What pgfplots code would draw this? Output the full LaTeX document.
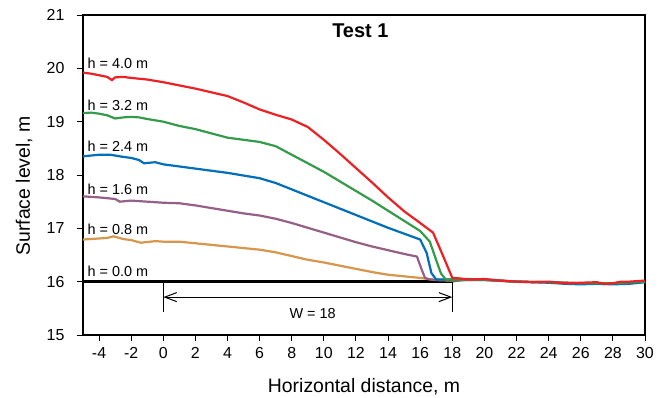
\documentclass[border=0pt]{standalone}
\usepackage{pgfplots}
\pgfplotsset{compat=1.18}
\usepackage{fontspec}
\setmainfont{Liberation Sans}
\usetikzlibrary{arrows.meta}
\definecolor{cred}{RGB}{237,32,36}
\definecolor{cgreen}{RGB}{52,155,75}
\definecolor{cblue}{RGB}{0,110,185}
\definecolor{cpurple}{RGB}{150,95,135}
\definecolor{corange}{RGB}{214,150,75}
\begin{document}
\begin{tikzpicture}
\useasboundingbox (-83bp,-63bp) rectangle (584bp,335bp);
\begin{axis}[
  at={(0,0)}, anchor=south west,
  scale only axis, width=562bp, height=320bp,
  xmin=-5, xmax=30, ymin=15, ymax=21,
  xtick={-4,-2,...,30}, ytick={15,16,...,21},
  tick align=outside, tick pos=left,
  major tick length=6bp,
  axis line style={line width=1.2bp},
  every tick/.style={line width=1bp, black},
  ticklabel style={font=\fontsize{16}{16}\selectfont},
  xticklabel style={yshift=-3bp},
  yticklabel style={xshift=-9bp},
  /pgf/number format/assume math mode=true,
  xlabel={Horizontal distance, m}, ylabel={Surface level, m},
  label style={font=\fontsize{19.5}{19.5}\selectfont},
  xlabel style={at={(axis description cs:0.5,-0.181)}, anchor=base},
  ylabel style={at={(axis description cs:-0.105,0.466)}, anchor=center},
  clip=false,
]
% base line h = 0.0
\addplot[black, line width=3bp] coordinates {(-5,16) (18,16)};
\addplot[black, line width=1.5bp] coordinates {(18,16.0) (19,16.04) (20,16.03) (22,16.0) (24,15.99) (26,15.97) (27.5,15.95) (28,15.97) (29,15.99) (30,16.0)};
% h = 0.8
\addplot[corange, line width=2.2bp] coordinates {
(-5,16.79) (-4.5,16.80) (-4,16.81) (-3.5,16.82) (-3.1,16.85) (-2.5,16.80) (-2,16.78) (-1.4,16.73) (-0.5,16.76) (0,16.75) (1,16.75) (2,16.72) (3,16.69) (4,16.66) (5,16.63) (6,16.60) (7,16.55) (8,16.48) (9,16.41) (10,16.36) (11,16.30) (12,16.24) (13,16.18) (14,16.13) (15,16.10) (16,16.07) (17,16.03) (18,16.02) (19,16.03) (20,16.03) (22,16.0) (24,15.99) (26,15.97) (28,15.97) (30,16.0)};
% h = 1.6
\addplot[cpurple, line width=2.2bp] coordinates {
(-5,17.60) (-4,17.58) (-3,17.55) (-2.7,17.50) (-2,17.52) (-1,17.50) (0,17.48) (1,17.47) (2,17.43) (3,17.38) (4,17.33) (5,17.28) (6,17.24) (7,17.18) (8,17.10) (9,17.01) (10,16.92) (11,16.83) (12,16.74) (13,16.66) (14,16.59) (15,16.52) (15.8,16.47) (16.1,16.22) (16.3,16.07) (16.6,16.04) (18,16.03) (20,16.03) (22,16.0) (24,15.99) (26,15.97) (28,15.97) (30,16.0)};
% h = 2.4
\addplot[cblue, line width=2.2bp] coordinates {
(-5,18.35) (-4,18.38) (-3.3,18.38) (-2.5,18.34) (-2,18.32) (-1.5,18.28) (-1.2,18.22) (-0.5,18.24) (0,18.20) (1,18.16) (2,18.12) (3,18.08) (4,18.04) (5,17.99) (6,17.94) (7,17.85) (8,17.73) (9,17.61) (10,17.49) (11,17.37) (12,17.25) (13,17.13) (14,17.01) (15,16.90) (16,16.79) (16.4,16.54) (16.7,16.16) (17.0,16.04) (18,16.04) (19,16.05) (20,16.04) (22,16.0) (24,15.98) (25,15.96) (26,15.95) (27,15.96) (28,15.95) (29,15.96) (30,15.99)};
% h = 3.2
\addplot[cgreen, line width=2.2bp] coordinates {
(-5,19.16) (-4.5,19.17) (-4,19.15) (-3.5,19.12) (-3,19.06) (-2.5,19.08) (-2,19.09) (-1.5,19.08) (-1,19.05) (0,19.00) (1,18.92) (2,18.86) (3,18.78) (4,18.70) (5,18.66) (6,18.62) (7,18.54) (8,18.38) (9,18.22) (10,18.06) (11,17.88) (12,17.70) (13,17.52) (14,17.33) (15,17.14) (16,16.95) (16.6,16.75) (17.0,16.40) (17.3,16.15) (17.6,16.04) (18,16.04) (20,16.04) (22,16.0) (24,15.99) (26,15.97) (28,15.97) (30,16.0)};
% h = 4.0
\addplot[cred, line width=2.2bp] coordinates {
(-5,19.92) (-4.5,19.90) (-4,19.87) (-3.5,19.84) (-3.2,19.78) (-3.0,19.83) (-2.5,19.84) (-2,19.82) (-1,19.79) (0,19.74) (1,19.68) (2,19.62) (3,19.55) (4,19.48) (5,19.36) (6,19.23) (7,19.13) (8,19.04) (9,18.90) (10,18.66) (11,18.40) (12,18.13) (13,17.86) (14,17.58) (15,17.32) (16,17.10) (16.8,16.92) (17.4,16.50) (18,16.07) (18.5,16.06) (19,16.04) (20,16.05) (21,16.02) (22,16.00) (23,15.99) (24,16.00) (25,15.97) (26,15.98) (27,15.99) (27.5,15.96) (28,15.97) (28.5,16.00) (29,16.00) (30,16.02)};
% labels
\begin{scope}[every node/.style={anchor=west, inner sep=0pt, font=\fontsize{14.5}{14.5}\selectfont}]
\node at (axis cs:-4.73,20.10) {h = 4.0 m};
\node at (axis cs:-4.73,19.31) {h = 3.2 m};
\node at (axis cs:-4.73,18.53) {h = 2.4 m};
\node at (axis cs:-4.73,17.74) {h = 1.6 m};
\node at (axis cs:-4.73,16.99) {h = 0.8 m};
\node at (axis cs:-4.73,16.20) {h = 0.0 m};
\end{scope}
\node[font=\bfseries\fontsize{20}{20}\selectfont] at (axis cs:12.27,20.70) {Test 1};
% width marker
\draw[line width=1bp] (axis cs:0,16) -- (axis cs:0,15.44);
\draw[line width=1bp] (axis cs:18,16) -- (axis cs:18,15.44);
\draw[line width=1bp, {Straight Barb[length=12bp,width=9bp]}-{Straight Barb[length=12bp,width=9bp]}] (axis cs:0,15.71) -- (axis cs:18,15.71);
\node[font=\fontsize{14.5}{14.5}\selectfont] at (axis cs:9.3,15.40) {W = 18};
\end{axis}
\end{tikzpicture}
\end{document}
